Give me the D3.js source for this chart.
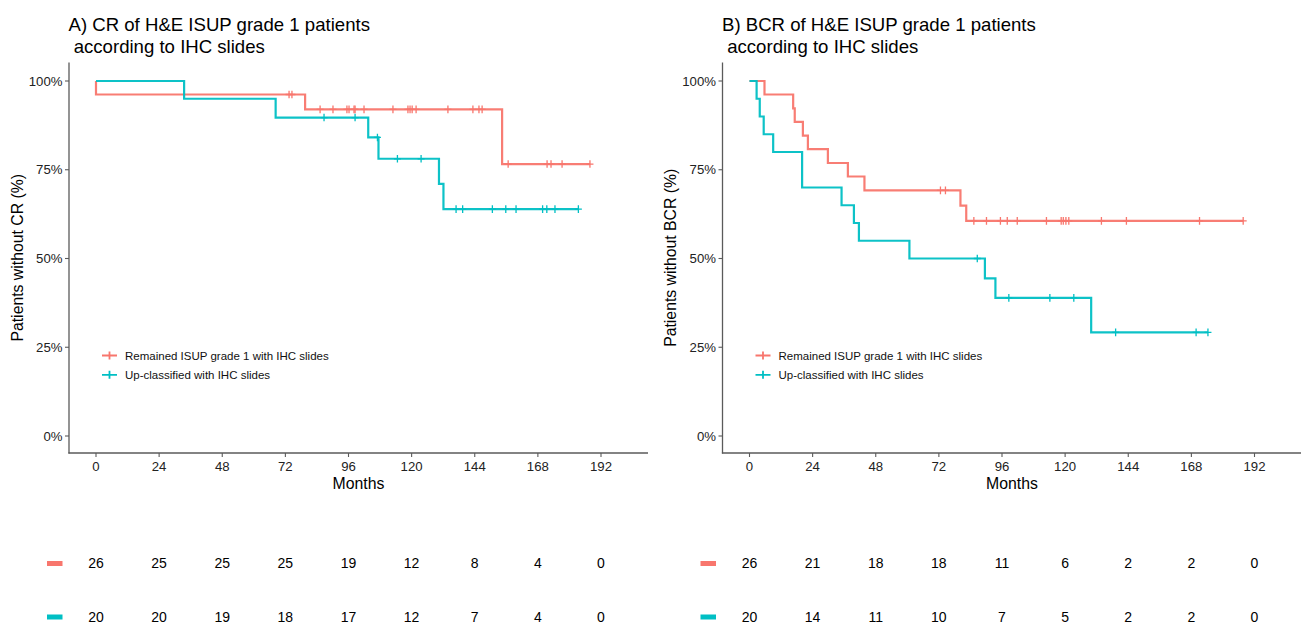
<!DOCTYPE html>
<html>
<head>
<meta charset="utf-8">
<script src="https://cdn.jsdelivr.net/npm/d3@7"></script>
<style>
  html, body { margin: 0; padding: 0; background: #fff; }
  svg { display: block; font-family: "Liberation Sans", Arial, sans-serif; }
</style>
</head>
<body>
<svg id="chart" width="1301" height="625"></svg>
<script>
// ---------------- DATA ----------------
const groupNames = ["Remained ISUP grade 1 with IHC slides", "Up-classified with IHC slides"];
const groupColors = ["#F8766D", "#00BFC4"];
const monthTicks = [0, 24, 48, 72, 96, 120, 144, 168, 192];
const pctTicks = [0, 25, 50, 75, 100];

// Panel A: CR
const titleA = ["A) CR of H&E ISUP grade 1 patients", " according to IHC slides"];
const yLabelA = "Patients without CR (%)";
const aRedDropTimes = [0, 79.5, 154.4];
const aRedSurv = [96.2, 92.0, 76.6];
const aRedCensor = [73.4, 74.5, 85.2, 90.1, 95.4, 96.2, 98.1, 98.5, 101.9, 112.9, 118.6, 119.4, 120.2, 121.7, 133.8, 143.3, 145.6, 146.8, 156.7, 171.5, 173.0, 177.2, 187.8];
const aCyanDropTimes = [33.5, 68.3, 103.5, 107.4, 130.4, 132.1];
const aCyanSurv = [95.0, 89.7, 84.1, 78.1, 71.0, 63.9];
const aCyanCensor = [86.7, 98.5, 107.0, 114.6, 123.6, 136.9, 139.4, 150.7, 155.8, 159.7, 169.8, 171.4, 174.5, 183.4];
const aRiskRed = [26, 25, 25, 25, 19, 12, 8, 4, 0];
const aRiskCyan = [20, 20, 19, 18, 17, 12, 7, 4, 0];

// Panel B: BCR
const titleB = ["B) BCR of H&E ISUP grade 1 patients", " according to IHC slides"];
const yLabelB = "Patients without BCR (%)";
const bRedDropTimes = [5.7, 16.6, 17.2, 20.3, 22.2, 29.8, 37.4, 43.7, 80.2, 82.4];
const bRedSurv = [96.2, 92.3, 88.5, 84.6, 80.8, 76.9, 73.1, 69.2, 64.9, 60.6];
const bRedCensor = [72.6, 74.5, 85.3, 90.1, 95.4, 98.0, 101.8, 112.9, 118.5, 119.3, 120.3, 121.4, 133.8, 143.3, 171.1, 187.7];
const bCyanDropTimes = [2.7, 3.9, 5.4, 9.0, 20.0, 35.0, 39.7, 41.6, 60.8, 89.5, 93.5, 129.9];
const bCyanSurv = [95, 90, 85, 80, 70, 65, 60, 55, 50, 44.4, 38.9, 29.2];
const bCyanCensor = [86.6, 98.6, 114.2, 123.3, 139.2, 169.8, 174.3];
const bRiskRed = [26, 21, 18, 18, 11, 6, 2, 2, 0];
const bRiskCyan = [20, 14, 11, 10, 7, 5, 2, 2, 0];

// ---------------- DRAW ----------------
const svg = d3.select("#chart");
const axisColor = "#5a5a5a";

function buildCurve(dropTimes, surv, censor) {
  const pts = [[0, 100]];
  dropTimes.forEach((t, i) => pts.push([t, surv[i]]));
  const end = Math.max(d3.max(censor), d3.max(dropTimes));
  pts.push([end, surv[surv.length - 1]]);
  return pts;
}
function survAt(dropTimes, surv, t) {
  let s = 100;
  dropTimes.forEach((d, i) => { if (d <= t) s = surv[i]; });
  return s;
}

function panel(cfg) {
  const g = svg.append("g");
  const x = d3.scaleLinear().domain([0, 192]).range([cfg.x0, cfg.x0 + 505]);
  const y = d3.scaleLinear().domain([0, 100]).range([436, 81]);
  const axLeft = cfg.x0 - 27, axRight = cfg.x0 + 552;
  const axTop = 62.5, axBottom = 453;

  // titles
  g.append("text").attr("x", axLeft - 0.5).attr("y", 30.5)
    .attr("font-size", 18.6).attr("fill", "#000").style("white-space", "pre").text(cfg.title[0]);
  g.append("text").attr("x", axLeft - 0.5).attr("y", 52.5)
    .attr("font-size", 18.6).attr("fill", "#000").style("white-space", "pre").text(cfg.title[1]);

  // axes lines
  g.append("line").attr("x1", axLeft).attr("x2", axLeft).attr("y1", axTop).attr("y2", axBottom + 0.6)
    .attr("stroke", axisColor).attr("stroke-width", 1.3);
  g.append("line").attr("x1", axLeft - 0.6).attr("x2", axRight).attr("y1", axBottom).attr("y2", axBottom)
    .attr("stroke", axisColor).attr("stroke-width", 1.3);

  // y ticks
  pctTicks.forEach(p => {
    g.append("line").attr("x1", axLeft - 4).attr("x2", axLeft).attr("y1", y(p)).attr("y2", y(p))
      .attr("stroke", axisColor).attr("stroke-width", 1.1);
    g.append("text").attr("x", axLeft - 6.5).attr("y", y(p)).attr("dy", "0.35em")
      .attr("text-anchor", "end").attr("font-size", 13.2).attr("fill", "#222").text(p + "%");
  });
  // x ticks
  monthTicks.forEach(m => {
    g.append("line").attr("x1", x(m)).attr("x2", x(m)).attr("y1", axBottom).attr("y2", axBottom + 4)
      .attr("stroke", axisColor).attr("stroke-width", 1.1);
    g.append("text").attr("x", x(m)).attr("y", 466).attr("dy", "0.35em")
      .attr("text-anchor", "middle").attr("font-size", 13.2).attr("fill", "#222").text(m);
  });
  // axis titles
  g.append("text").attr("x", (axLeft + axRight) / 2).attr("y", 483).attr("dy", "0.35em")
    .attr("text-anchor", "middle").attr("font-size", 15.8).attr("fill", "#000").text("Months");
  g.append("text").attr("transform", `translate(${axLeft - 52},${(axTop + axBottom) / 2}) rotate(-90)`)
    .attr("text-anchor", "middle").attr("dy", "0.35em").attr("font-size", 15.8).attr("fill", "#000").text(cfg.yLabel);

  // curves
  const line = d3.line().x(d => x(d[0])).y(d => y(d[1])).curve(d3.curveStepAfter);
  cfg.series.forEach((s, i) => {
    const pts = buildCurve(s.drops, s.surv, s.censor);
    g.append("path").attr("d", line(pts)).attr("fill", "none")
      .attr("stroke", groupColors[i]).attr("stroke-width", 2.2).attr("stroke-opacity", 0.95);
    s.censor.forEach(t => {
      const cx = x(t), cy = y(survAt(s.drops, s.surv, t));
      g.append("path").attr("d", `M${cx - 3.5},${cy}H${cx + 3.5}M${cx},${cy - 3.8}V${cy + 3.8}`)
        .attr("stroke", groupColors[i]).attr("stroke-width", 1.3).attr("fill", "none");
    });
  });

  // legend
  const lx = axLeft + 33;
  [355.5, 374.8].forEach((ly, i) => {
    g.append("path").attr("d", `M${lx},${ly}H${lx + 15}M${lx + 7.5},${ly - 4}V${ly + 4}`)
      .attr("stroke", groupColors[i]).attr("stroke-width", 1.8).attr("fill", "none");
    g.append("text").attr("x", lx + 23).attr("y", ly).attr("dy", "0.35em")
      .attr("font-size", 11.5).attr("fill", "#111").text(groupNames[i]);
  });

  // risk table
  [cfg.riskRed, cfg.riskCyan].forEach((arr, i) => {
    const ry = i === 0 ? 563.5 : 617;
    g.append("rect").attr("x", axLeft - 22).attr("y", ry - 2.5).attr("width", 15.5).attr("height", 5)
      .attr("fill", groupColors[i]);
    arr.forEach((v, k) => {
      g.append("text").attr("x", x(monthTicks[k])).attr("y", ry).attr("dy", "0.35em")
        .attr("text-anchor", "middle").attr("font-size", 14).attr("fill", "#000").text(v);
    });
  });
}

panel({
  x0: 96, title: titleA, yLabel: yLabelA,
  series: [
    { drops: aRedDropTimes, surv: aRedSurv, censor: aRedCensor },
    { drops: aCyanDropTimes, surv: aCyanSurv, censor: aCyanCensor }
  ],
  riskRed: aRiskRed, riskCyan: aRiskCyan
});
panel({
  x0: 749.5, title: titleB, yLabel: yLabelB,
  series: [
    { drops: bRedDropTimes, surv: bRedSurv, censor: bRedCensor },
    { drops: bCyanDropTimes, surv: bCyanSurv, censor: bCyanCensor }
  ],
  riskRed: bRiskRed, riskCyan: bRiskCyan
});
</script>
</body>
</html>
